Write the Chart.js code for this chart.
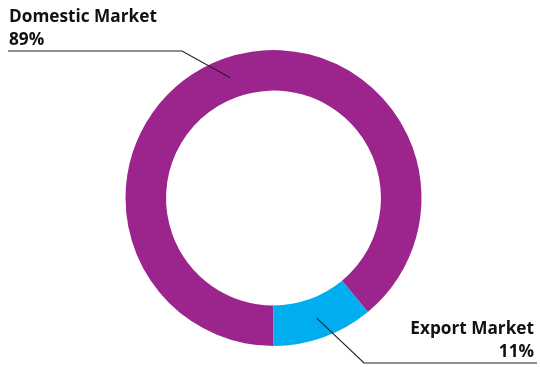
<!DOCTYPE html>
<html>
<head>
<meta charset="utf-8">
<script src="https://cdn.jsdelivr.net/npm/chart.js@4"></script>
<style>
  html, body { margin: 0; padding: 0; background: #fff; }
  #wrap { width: 540px; height: 367px; position: relative; }
</style>
</head>
<body>
<div id="wrap"><canvas id="marketChart"></canvas></div>
<script>
// market split
const markets = ['Domestic Market', 'Export Market'];
const shares = [89, 11];
const colours = ['#9b258c', '#00aeef'];

// callout placement per slice: which side the text sits, y of the rule line, x of the elbow
const callouts = [
  { side: 'left', lineY: 51, elbowX: 182, edge: 8 },
  { side: 'right', lineY: 363, elbowX: 364, edge: 537 }
];

const labelFont = '"Open Sans"';

const calloutPlugin = {
  id: 'callouts',
  afterDatasetsDraw(chart) {
    const ctx = chart.ctx;
    const arcs = chart.getDatasetMeta(0).data;
    ctx.save();
    // size the label font so the longer label spans about 148px
    ctx.font = 'bold 18px ' + labelFont;
    const w = ctx.measureText(markets[0]).width;
    const size = Math.min(19, 18 * 148 / w);
    arcs.forEach(function(arc, i) {
      const c = callouts[i];
      const p = arc.tooltipPosition();
      // leader line
      ctx.strokeStyle = '#222';
      ctx.lineWidth = 1.2;
      ctx.beginPath();
      ctx.moveTo(p.x, p.y);
      ctx.lineTo(c.elbowX, c.lineY);
      ctx.lineTo(c.edge, c.lineY);
      ctx.stroke();
      // label text
      ctx.fillStyle = '#111';
      ctx.font = 'bold ' + size.toFixed(2) + 'px ' + labelFont;
      ctx.textBaseline = 'alphabetic';
      ctx.textAlign = c.side === 'left' ? 'left' : 'right';
      const x = c.side === 'left' ? c.edge + 1 : c.edge - 3;
      ctx.fillText(markets[i], x, c.lineY - 29);
      ctx.fillText(shares[i] + '%', x, c.lineY - 6);
    });
    ctx.restore();
  }
};

new Chart(document.getElementById('marketChart'), {
  type: 'doughnut',
  data: {
    labels: markets,
    datasets: [{
      data: shares,
      backgroundColor: colours,
      borderWidth: 0
    }]
  },
  options: {
    responsive: true,
    maintainAspectRatio: false,
    animation: false,
    rotation: 180,
    cutout: '72.6%',
    layout: { padding: { top: 50, bottom: 21, left: 125.5, right: 118.5 } },
    plugins: {
      legend: { display: false },
      tooltip: { enabled: false }
    }
  },
  plugins: [calloutPlugin]
});
</script>
</body>
</html>
